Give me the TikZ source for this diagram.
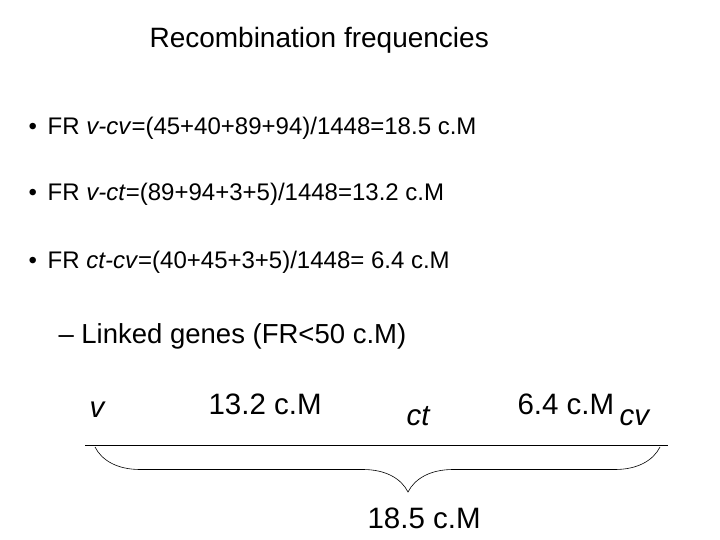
\documentclass[tikz,border=0pt]{standalone}
\usepackage{fontspec}
\setmainfont{Liberation Sans}
\usetikzlibrary{positioning}
\usetikzlibrary{decorations.pathreplacing}
\begin{document}
\begin{tikzpicture}[
	    x=1pt, y=-1pt,
	    title/.style={anchor=west, font=\fontsize{28}{32}\selectfont},
	    bullet/.style={anchor=west, font=\fontsize{24}{28}\selectfont},
	    sub/.style={anchor=west, font=\fontsize{27.5}{32}\selectfont},
	    maplabel/.style={anchor=west, font=\fontsize{29.5}{34}\selectfont},
	    mapline/.style={line width=0.6pt},
	    bracebar/.style={decorate, decoration={brace, mirror, amplitude=45pt, aspect=0.554}, line width=0.6pt},
	]
	\useasboundingbox (0,0) rectangle (720,540);
	\node[title] (title) at (146,40) {Recombination frequencies};

	% ------------ bullets
	\node[bullet] (fra) at (25,128) {•\hspace{0.45em}FR \textit{v-cv}=(45+40+89+94)/1448=18.5 c.M};
	\node[bullet] (frb) at (25,194) {•\hspace{0.45em}FR \textit{v-ct}=(89+94+3+5)/1448=13.2 c.M};
	\node[bullet] (frc) at (25,262) {•\hspace{0.45em}FR \textit{ct-cv}=(40+45+3+5)/1448= 6.4 c.M};
	\node[sub] (linked) at (55,336) {– Linked genes (FR<50 c.M)};

	% ------------ map
	\node[maplabel] (v) at (86,410) {\textit{v}};
	\node[maplabel] (vct) at (205,404) {13.2 c.M};
	\node[maplabel] (ct) at (403,416) {\textit{ct}};
	\node[maplabel] (ctcv) at (514,404) {6.4 c.M};
	\node[maplabel] (cv) at (616,418) {\textit{cv}};
	\coordinate (linel) at (85,445);
	\coordinate (liner) at (668,445);
	\draw[mapline] (linel) -- (liner);

	\coordinate (bracel) at (95,447);
	\coordinate (bracer) at (660,447);
	\draw[bracebar] (bracel) -- (bracer);
	\node[maplabel] (total) at (364,518) {18.5 c.M};
\end{tikzpicture}
\end{document}
